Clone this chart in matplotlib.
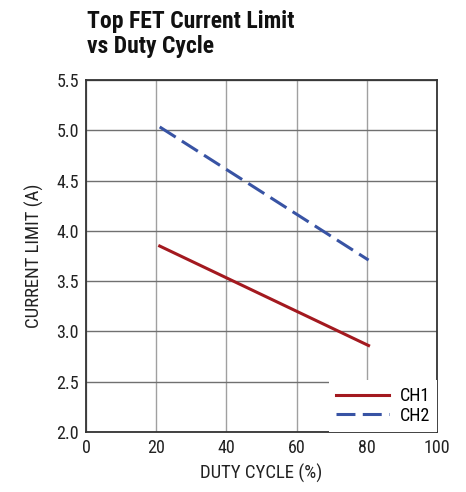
import matplotlib.pyplot as plt

plt.rcParams["font.family"] = ["Roboto Condensed", "DejaVu Sans"]

duty = [21.0, 80.5]
ch1 = [3.85, 2.86]
ch2 = [5.035, 3.71]
xticks = [0, 20, 40, 60, 80, 100]
yticks = [2.0, 2.5, 3.0, 3.5, 4.0, 4.5, 5.0, 5.5]

fig = plt.figure(figsize=(4.66, 4.92), dpi=100)
ax = fig.add_axes([0.1845, 0.122, 0.7533, 0.715])

ax.plot(duty, ch1, color="#a3191f", lw=2.2, label="CH1")
ax.plot(duty, ch2, color="#3853a4", lw=2.2, dashes=(6.2, 2.4), label="CH2")

ax.set_xlim(0, 100)
ax.set_ylim(2.0, 5.5)
ax.set_xticks(xticks)
ax.set_yticks(yticks)
ax.set_yticklabels([f"{v:.1f}" for v in yticks])
ax.xaxis.grid(True, color="#a0a0a0", lw=1)
ax.yaxis.grid(True, color="#707070", lw=1)
ax.tick_params(length=0, labelsize=13, pad=5, colors="#222222")
for s in ax.spines.values():
    s.set_color("#333333")
    s.set_linewidth(1.3)

ax.set_xlabel("DUTY CYCLE (%)", fontsize=13.5, color="#222222", labelpad=5)
ax.set_ylabel("CURRENT LIMIT (A)", fontsize=13.5, color="#222222", labelpad=9)

leg = ax.legend(loc="lower right", frameon=True, fancybox=False, fontsize=13,
                borderaxespad=0, handlelength=2.9, handletextpad=0.6,
                labelspacing=0.1, borderpad=0.4)
leg.get_frame().set_edgecolor("none")
leg.get_frame().set_facecolor("white")
leg.get_frame().set_alpha(1)

fig.text(0.186, 0.883, "Top FET Current Limit\nvs Duty Cycle", fontsize=17,
         fontweight="bold", color="#111111", va="bottom", ha="left", linespacing=1.1)

fig.savefig("out.png", dpi=100)
